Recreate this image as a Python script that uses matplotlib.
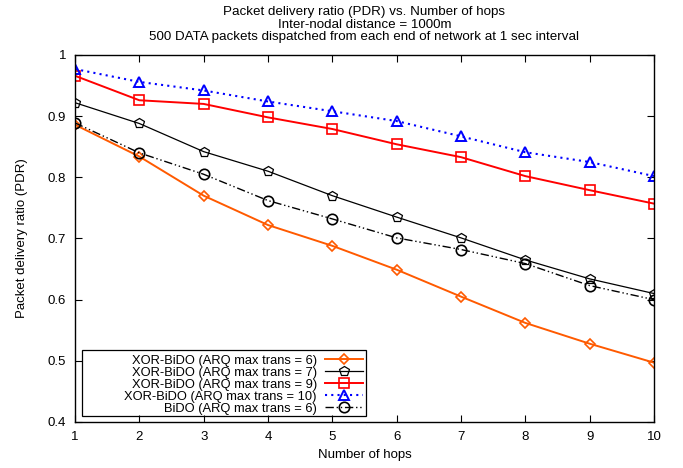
import matplotlib
matplotlib.use("Agg")
import matplotlib.pyplot as plt
from matplotlib.ticker import FuncFormatter
from matplotlib.patches import Rectangle

plt.rcParams['font.family'] = ['Liberation Sans', 'DejaVu Sans']

hops = [1, 2, 3, 4, 5, 6, 7, 8, 9, 10]
xor6 = [0.886, 0.834, 0.770, 0.722, 0.688, 0.649, 0.605, 0.562, 0.528, 0.497]
xor7 = [0.922, 0.888, 0.842, 0.810, 0.770, 0.735, 0.701, 0.665, 0.634, 0.610]
xor9 = [0.966, 0.926, 0.920, 0.898, 0.879, 0.854, 0.833, 0.802, 0.779, 0.757]
xor10 = [0.977, 0.956, 0.942, 0.924, 0.908, 0.892, 0.867, 0.841, 0.825, 0.802]
bido6 = [0.889, 0.840, 0.805, 0.762, 0.732, 0.701, 0.682, 0.659, 0.623, 0.600]

labels = ["XOR-BiDO (ARQ max trans = 6)",
          "XOR-BiDO (ARQ max trans = 7)",
          "XOR-BiDO (ARQ max trans = 9)",
          "XOR-BiDO (ARQ max trans = 10)",
          "BiDO (ARQ max trans = 6)"]

fig = plt.figure(figsize=(6.83, 4.68), dpi=100)
ax = fig.add_axes([0.1098, 0.0983, 0.8477, 0.7842])

ax.plot(hops, xor6, color='#ff5a00', lw=1.4, marker='D', ms=5.5, mfc='none', mew=1.2, label=labels[0])
ax.plot(hops, xor7, color='black', lw=0.9, marker='p', ms=7, mfc='none', mew=0.9, label=labels[1])
ax.plot(hops, xor9, color='#ff0000', lw=1.4, marker='s', ms=7.5, mfc='none', mew=1.2, label=labels[2])
ax.plot(hops, xor10, color='#0000ff', lw=1.5, ls=(0, (1, 2)), marker='^', ms=7, mfc='none', mew=1.4, label=labels[3])
ax.plot(hops, bido6, color='black', lw=1.0, ls=(0, (6, 2, 1, 2, 1, 2)), marker='o', ms=7.5, mfc='none', mew=1.2, label=labels[4])

ax.set_xlim(1, 10)
ax.set_ylim(0.4, 1.0)
ax.set_xticks(hops)
ax.set_yticks([0.4, 0.5, 0.6, 0.7, 0.8, 0.9, 1.0])
ax.yaxis.set_major_formatter(FuncFormatter(lambda v, p: '%g' % round(v, 2)))
ax.tick_params(direction='in', top=True, right=True, labelsize=9.5, length=5, width=0.8, pad=6.5)
for s in ax.spines.values():
    s.set_linewidth(1.0)

ax.set_xlabel("Number of hops", fontsize=9.5, labelpad=4)
ax.set_ylabel("Packet delivery ratio (PDR)", fontsize=9.5, labelpad=14)
ax.set_title("Packet delivery ratio (PDR) vs. Number of hops\nInter-nodal distance = 1000m\n"
             "500 DATA packets dispatched from each end of network at 1 sec interval",
             fontsize=9.6, linespacing=1.02, pad=11)

# legend frame (gnuplot-style wide box)
ax.add_patch(Rectangle((0.012, 0.0163), 0.4906, 0.18, transform=ax.transAxes,
                       fill=False, edgecolor='black', lw=0.9, zorder=5))
leg = ax.legend(loc='lower right', bbox_to_anchor=(0.5026, 0.012), markerfirst=False,
                fontsize=9.3, frameon=False,
                handlelength=3.0, handletextpad=0.6, borderpad=0.2, labelspacing=0.0,
                borderaxespad=0)
for col in leg._legend_handle_box.get_children():
    col.align = "right"

fig.savefig("out.png", dpi=100)
